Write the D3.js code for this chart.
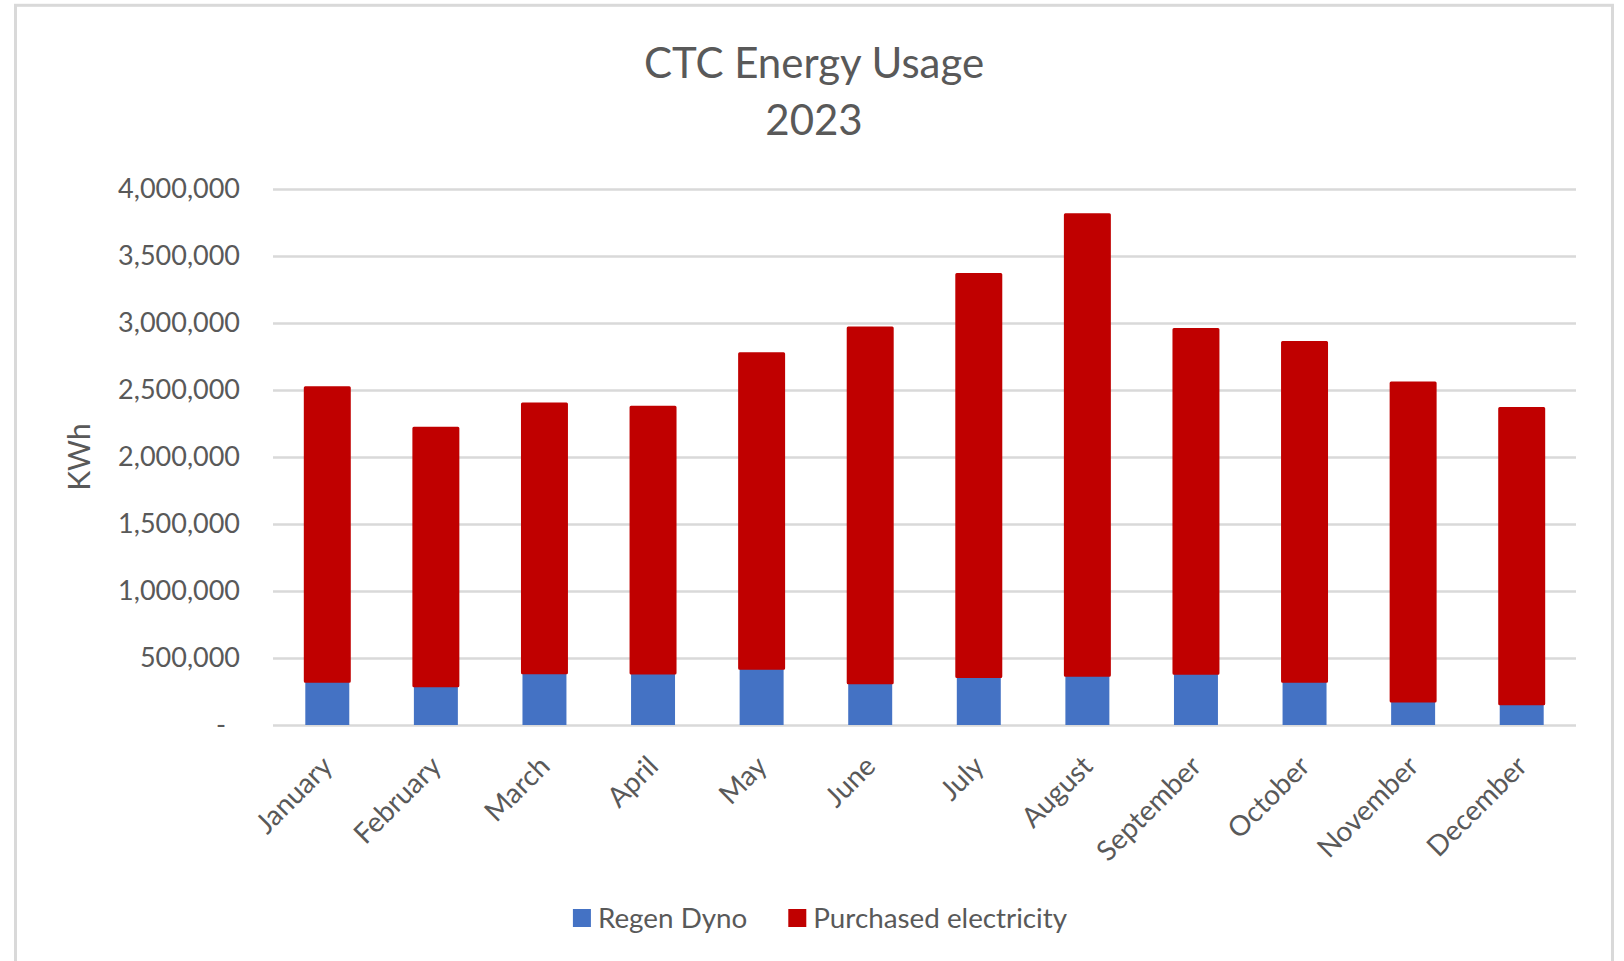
<!DOCTYPE html>
<html>
<head>
<meta charset="utf-8">
<script src="https://cdn.jsdelivr.net/npm/d3@7"></script>
<style>
  html, body { margin: 0; padding: 0; background: #ffffff; }
  svg { display: block; }
  text { font-family: Lato, "Open Sans", "Liberation Sans", sans-serif; fill: #595959; }
</style>
</head>
<body>
<script>
// Monthly energy usage, 2023 (kWh)
const months = ["January", "February", "March", "April", "May", "June",
                "July", "August", "September", "October", "November", "December"];
const regenDyno = [327000, 293000, 389000, 388000, 424000, 315000,
                   362000, 372000, 386000, 326000, 180000, 158000];
const purchasedElectricity = [2190000, 1922000, 2007000, 1983000, 2346000, 2648000,
                              3000000, 3436000, 2565000, 2529000, 2372000, 2204000];
const seriesNames = ["Regen Dyno", "Purchased electricity"];
const yTicks = [0, 500000, 1000000, 1500000, 2000000, 2500000, 3000000, 3500000, 4000000];
const titleLines = ["CTC Energy Usage", "2023"];
const yAxisTitle = "KWh";

const W = 1624, H = 961;
const colors = { "Regen Dyno": "#4472c4", "Purchased electricity": "#c00000" };
const plot = { left: 273, right: 1576, top: 189, bottom: 725 };
const tickSize = 27;
const monthSize = 28;
const legendSize = 27.8;

const svg = d3.select("body").append("svg").attr("width", W).attr("height", H);

// chart area frame
svg.append("rect")
  .attr("x", 15.5).attr("y", 5.3)
  .attr("width", 1597).attr("height", 1000)
  .attr("fill", "#ffffff").attr("stroke", "#d9d9d9").attr("stroke-width", 3);

// title
svg.append("g").selectAll("text").data(titleLines).join("text")
  .attr("x", 814)
  .attr("y", (d, i) => 78 + i * 57)
  .attr("text-anchor", "middle")
  .attr("font-size", 42)
  .text(d => d);

const rows = months.map((m, i) => ({
  month: m,
  "Regen Dyno": regenDyno[i],
  "Purchased electricity": purchasedElectricity[i]
}));
const stacked = d3.stack().keys(seriesNames)(rows);

const x = d3.scaleBand().domain(months)
  .range([plot.left, plot.right])
  .paddingInner(0.595).paddingOuter(0.2975);
const y = d3.scaleLinear().domain([0, 4000000]).range([plot.bottom, plot.top]);

// value axis with gridlines
const fmt = d3.format(",");
const yAxis = svg.append("g")
  .attr("transform", `translate(${plot.left},0)`)
  .call(d3.axisLeft(y).tickValues(yTicks)
    .tickSize(-(plot.right - plot.left)).tickPadding(33)
    .tickFormat(d => d === 0 ? "-" : fmt(d)));
yAxis.select(".domain").remove();
yAxis.selectAll(".tick line").attr("stroke", "#d9d9d9").attr("stroke-width", 2.5);
yAxis.selectAll(".tick text")
  .attr("font-size", tickSize)
  .attr("font-family", null)
  .attr("fill", "#595959")
  .attr("dx", d => d === 0 ? -14 : 0);

// stacked bars
svg.append("g").selectAll("g").data(stacked).join("g")
  .attr("fill", d => colors[d.key])
  .attr("stroke", d => d.key === "Purchased electricity" ? colors[d.key] : "none")
  .attr("stroke-width", 3)
  .attr("stroke-linejoin", "round")
  .selectAll("rect").data(d => d).join("rect")
  .attr("x", d => x(d.data.month))
  .attr("width", x.bandwidth())
  .attr("y", d => y(d[1]))
  .attr("height", d => y(d[0]) - y(d[1]));

// category axis
const xAxis = svg.append("g")
  .attr("transform", `translate(0,${plot.bottom})`)
  .call(d3.axisBottom(x).tickSize(0));
xAxis.select(".domain").remove();
xAxis.selectAll(".tick text")
  .attr("font-size", monthSize)
  .attr("font-family", null)
  .attr("fill", "#595959")
  .attr("x", 0).attr("y", 0).attr("dy", 0)
  .attr("text-anchor", "end")
  .attr("transform", "translate(7,43) rotate(-45)");

// value axis title
svg.append("text")
  .attr("transform", `translate(90,${(plot.top + plot.bottom) / 2}) rotate(-90)`)
  .attr("text-anchor", "middle")
  .attr("font-size", 30)
  .text(yAxisTitle);

// legend
const legend = svg.append("g");
let cursor = 0;
const keySize = 18, keyGap = 7, itemGap = 41;
seriesNames.forEach((name, i) => {
  const item = legend.append("g").attr("transform", `translate(${cursor},0)`);
  item.append("rect")
    .attr("x", 0).attr("y", -keySize / 2)
    .attr("width", keySize).attr("height", keySize)
    .attr("fill", colors[name]);
  const t = item.append("text")
    .attr("x", keySize + keyGap).attr("y", 0).attr("dy", "0.35em")
    .attr("font-size", legendSize)
    .text(name);
  cursor += keySize + keyGap + t.node().getComputedTextLength() + (i < seriesNames.length - 1 ? itemGap : 0);
});
legend.attr("transform", `translate(${820 - cursor / 2},918)`);
</script>
</body>
</html>
